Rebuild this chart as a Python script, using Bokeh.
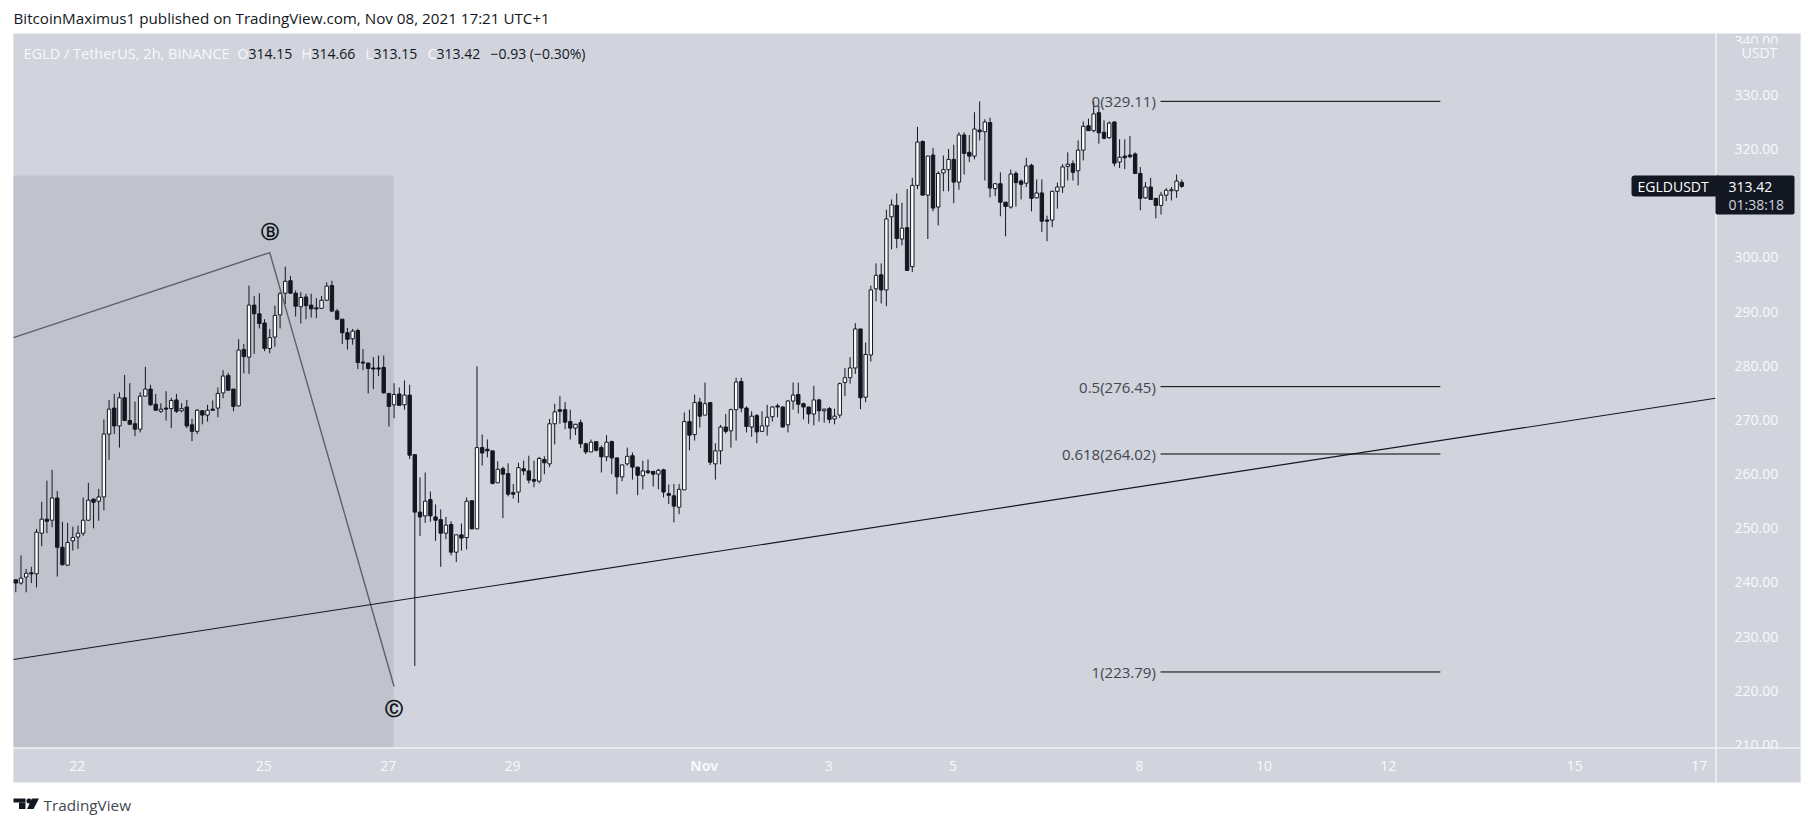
from bokeh.core.properties import value
from bokeh.embed import file_html
from bokeh.resources import INLINE
from bokeh.plotting import figure
from bokeh.models import (BoxAnnotation, ColumnDataSource, FixedTicker, Label,
                          LinearAxis, NumeralTickFormatter, PolyAnnotation, Range1d)

PANEL = "#d1d4dc"
DARK = "#131722"
LIGHT = "#f8f9fc"
FONT = "Open Sans"

high_prices = [
 240.8,245.3,242.8,243.2,250.2,255.2,259.1,261.1,257.2,251.5,
 251.3,250.6,250.8,256.0,258.7,255.8,257.6,270.4,274.0,275.1,
 275.4,278.6,277.1,273.7,275.4,280.1,276.8,275.1,273.4,275.6,
 274.4,275.1,273.4,274.0,270.5,272.3,272.1,273.1,273.9,276.3,
 279.5,279.0,276.0,285.2,284.3,295.1,293.2,293.7,288.9,287.1,
 291.4,294.0,298.6,296.9,294.2,293.9,293.6,293.6,292.8,293.2,
 295.7,296.0,290.8,288.9,287.3,287.1,287.1,283.4,280.9,281.9,
 282.2,282.2,275.2,277.1,276.3,277.6,276.8,263.9,
 259.7,260.6,257.1,254.7,253.8,252.4,251.6,249.1,251.2,256.0,
 255.4,280.2,267.6,266.7,264.6,262.7,261.7,262.3,258.5,262.4,
 262.8,263.7,262.8,263.5,263.6,270.5,273.3,274.7,273.6,272.2,
 269.6,270.4,266.1,266.7,266.3,265.6,267.5,266.5,263.3,262.1,
 265.2,264.3,261.6,262.8,263.0,260.9,261.3,261.3,258.4,258.5,
 258.5,271.7,272.2,275.0,274.4,277.2,273.6,266.0,269.4,271.4,
 272.4,278.1,278.1,272.8,271.9,271.4,271.9,273.1,272.8,273.3,
 272.8,274.0,277.2,277.2,273.5,272.7,276.6,274.2,272.4,272.7,
 272.4,277.2,279.9,
 281.9,288.2,287.1,284.6,295.1,299.2,299.2,309.1,311.0,312.1,
 310.4,312.9,315.0,324.4,321.9,319.1,320.5,316.2,319.1,320.3,
 321.1,323.4,323.4,322.9,327.1,329.1,325.8,326.1,314.0,316.0,
 310.5,316.5,316.2,314.7,318.7,317.6,314.7,314.7,308.0,312.6,
 314.1,317.5,319.7,318.2,321.9,325.4,325.9,329.1,328.3,325.6,
 325.4,325.4,322.1,322.1,322.7,319.7,317.0,314.2,315.0,311.2,
 312.4,313.1,313.3,315.6,314.66]

open_prices = [
 240.8,240.2,241.3,242.1,241.9,249.4,252.0,251.8,255.9,246.8,
 243.5,248.0,248.7,249.4,251.8,255.7,255.3,256.1,267.7,272.5,
 269.2,274.4,270.2,269.6,268.6,274.7,276.0,273.2,271.9,272.5,
 272.4,274.0,272.0,272.7,269.4,268.2,272.0,271.2,272.3,272.5,
 275.3,278.5,276.0,272.9,283.3,281.9,291.5,289.9,288.2,283.5,
 285.6,289.7,293.7,296.0,293.7,291.2,293.0,291.5,291.0,290.9,
 292.4,295.1,290.4,288.9,286.4,285.3,286.8,281.0,280.8,279.9,
 279.9,280.0,275.2,273.1,275.1,273.1,274.9,263.9,
 253.3,252.6,255.6,252.4,251.9,249.4,251.0,245.9,249.1,248.6,
 255.4,250.2,265.2,264.9,264.6,258.7,261.3,260.4,256.9,257.0,
 261.3,260.9,259.3,259.0,263.0,262.2,269.6,272.2,272.2,270.0,
 268.8,269.8,265.9,264.4,266.3,265.2,263.5,266.3,263.3,259.8,
 262.2,263.7,261.6,260.0,260.9,260.8,260.3,261.1,256.7,256.3,
 254.2,257.4,270.0,267.6,273.6,271.2,273.5,262.2,264.6,269.0,
 268.3,272.2,277.4,272.5,269.0,271.1,268.2,269.2,270.9,272.9,
 272.7,269.4,273.8,275.0,273.3,272.7,271.4,274.0,272.0,272.4,
 270.5,271.2,277.2,
 278.1,279.9,287.1,274.5,282.3,294.5,297.1,294.3,307.8,309.9,
 303.7,305.8,298.6,313.6,321.7,311.8,319.2,309.6,315.9,316.5,
 318.4,314.2,322.9,319.7,319.0,323.8,323.5,325.2,313.0,313.9,
 310.5,309.6,315.8,314.4,314.0,317.3,311.3,312.2,307.2,307.2,
 312.5,313.3,317.1,317.6,316.3,320.1,324.6,323.7,327.0,323.4,
 322.4,325.3,317.9,319.0,319.2,319.4,315.8,311.3,313.3,311.2,
 309.9,311.8,312.6,312.6,314.15]

close_prices = [
 240.2,241.1,242.0,241.9,249.6,252.0,251.6,255.9,246.8,243.6,
 247.7,248.6,249.4,251.8,255.5,255.1,256.1,267.7,272.3,269.2,
 274.4,270.2,269.5,268.6,274.7,276.0,273.1,272.1,272.3,272.3,
 273.9,271.9,272.4,269.2,268.2,272.1,271.2,272.1,272.1,275.2,
 278.4,275.8,272.8,283.2,282.0,291.5,289.9,288.1,283.5,285.5,
 289.6,293.6,295.9,293.7,291.3,292.9,291.4,290.8,290.8,292.4,
 295.0,290.4,288.9,286.4,285.2,286.7,280.9,280.8,279.8,279.7,
 279.7,275.3,272.8,275.0,273.0,274.9,263.8,253.3,
 252.4,255.3,252.6,251.8,249.4,250.9,245.9,249.1,248.5,255.3,
 250.2,265.2,264.2,264.6,258.6,261.2,260.3,256.6,256.6,261.5,
 260.9,259.2,259.0,263.2,262.4,269.6,271.8,271.9,269.9,268.8,
 269.5,265.9,264.4,266.2,264.7,263.5,266.2,263.3,259.8,262.0,
 263.6,261.6,260.1,260.9,260.6,260.3,261.0,257.0,256.4,254.4,
 257.5,270.0,267.5,273.5,271.0,273.3,262.5,264.6,269.0,268.2,
 272.2,277.3,272.5,269.1,271.0,268.1,269.2,270.8,272.7,272.7,
 269.0,273.8,274.9,273.2,272.7,271.4,274.0,272.0,272.3,270.4,
 271.0,277.0,278.1,
 279.9,287.1,274.4,282.4,294.3,297.0,294.3,307.4,310.0,303.8,
 305.7,297.9,313.6,321.6,311.8,319.0,309.4,315.8,316.5,318.4,
 314.2,322.9,319.5,319.0,324.0,323.5,325.3,313.1,313.9,310.5,
 309.7,315.7,314.1,313.8,317.2,311.2,312.2,307.0,307.0,312.5,
 313.3,317.0,317.5,316.0,320.1,324.5,323.7,326.8,323.3,322.3,
 325.1,317.7,318.8,318.7,318.9,315.8,311.2,313.3,311.0,309.9,
 311.8,312.7,312.8,314.4,313.42]

low_prices = [
 238.5,239.9,238.5,240.2,239.4,247.0,249.4,250.5,241.4,243.4,
 243.4,246.2,246.5,248.9,251.7,250.3,251.7,253.6,262.9,267.7,
 265.2,270.2,269.5,267.3,268.0,274.7,272.9,272.0,271.6,270.2,
 268.8,271.6,271.7,268.8,266.4,267.7,269.5,270.0,272.0,270.8,
 274.3,275.7,271.9,272.8,278.9,278.8,282.5,287.2,283.0,282.6,
 283.8,287.2,291.7,293.6,289.4,288.1,288.9,289.2,289.1,290.8,
 292.3,290.2,288.8,284.3,283.3,284.2,279.7,279.5,275.2,276.0,
 278.4,275.2,269.1,270.6,273.0,272.2,263.1,224.9,
 248.9,251.3,251.5,248.0,243.2,248.3,245.3,244.1,246.2,246.4,
 250.2,250.2,261.9,263.4,258.4,258.7,252.2,256.2,255.8,255.0,
 260.1,258.6,257.9,258.6,260.3,261.6,265.8,269.6,268.6,266.7,
 267.5,265.1,264.0,264.4,264.5,260.6,262.7,260.3,256.6,259.0,
 261.9,259.3,256.4,257.5,260.3,258.0,257.5,256.0,254.8,251.4,
 252.9,257.4,264.7,266.5,268.9,271.2,262.0,259.3,262.1,267.8,
 265.2,266.5,271.7,268.0,267.2,266.0,268.1,267.4,270.0,270.8,
 268.9,268.0,272.2,271.5,270.4,269.6,269.3,270.0,269.8,269.7,
 269.5,270.7,274.7,
 277.0,278.8,272.3,273.6,281.1,292.2,291.8,291.3,301.8,302.0,
 302.5,297.9,297.6,312.9,311.7,303.7,308.8,306.2,312.5,312.5,
 310.3,312.8,315.6,317.9,318.4,321.9,314.5,311.4,311.6,307.9,
 304.2,309.3,309.7,311.0,313.3,308.8,311.2,305.0,303.3,305.9,
 309.3,312.2,314.5,314.5,313.6,318.2,323.7,323.4,321.3,322.1,
 322.2,317.1,316.8,316.6,318.6,315.7,309.0,311.1,311.0,307.5,
 308.2,310.7,310.8,311.3,313.15]

assert len(high_prices) == len(open_prices) == len(close_prices) == len(low_prices) == 226

price_ticks = [210, 220, 230, 240, 250, 260, 270, 280, 290, 300, 320, 330, 340]
date_tick_bars = [12, 48, 72, 96, 133, 157, 181, 217, 241, 265, 301, 325]
date_tick_labels = ["22", "25", "27", "29", "", "3", "5", "8", "10", "12", "15", "17"]
month_tick_bar = 132.86
month_tick_label = "Nov"

fib_levels = ["0", "0.5", "0.618", "1"]
fib_prices = [329.11, 276.45, 264.02, 223.79]
fib_start_bar = 220.9
fib_end_bar = 274.9
fib_text_bar = 220.0

trend_bars = [-0.44, 328.0]
trend_prices = [226.1, 274.3]
wave_bars = [-0.44, 49.0, 73.0]
wave_prices = [285.5, 301.2, 221.1]
wave_label_text = ["Ⓑ", "Ⓒ"]
wave_label_bars = [49.1, 72.9]
wave_label_prices = [305.0, 217.0]
shade_bars = [-0.444, 72.9]
shade_prices = [209.85, 315.4]

# the frame fills the canvas so that the page furniture around the chart is not clipped
W, H = 1813, 826
p = figure(width=W, height=H, output_backend="svg", toolbar_location=None,
           x_range=Range1d(-2.9527, 346.91), y_range=Range1d(195.27, 347.72),
           x_axis_location=None, y_axis_location=None,
           min_border_left=0, min_border_right=0, min_border_top=0, min_border_bottom=0)
p.background_fill_color = "white"
p.border_fill_color = "white"
p.outline_line_color = None
p.grid.visible = False
# the axes read small pixel nudges from these so that their labels sit where the reference's do
p.extra_y_ranges = {"price_labels": Range1d(195.27 - 0.31, 347.72 - 0.31)}
p.extra_x_ranges = {"date_labels": Range1d(-2.9527 + 0.14, 346.91 + 0.14)}

def box(l, t, r, b, level="annotation", **kw):
    a = BoxAnnotation(left=l, right=r, top=t, bottom=b,
                      left_units="canvas", right_units="canvas", top_units="canvas", bottom_units="canvas",
                      level=level, editable=False, **kw)
    p.add_layout(a)
    return a

box(13, 33, 1800, 782, level="underlay", fill_color=PANEL, fill_alpha=1, line_color="#e0e3eb", line_width=1)

p.quad(left=[shade_bars[0]], right=[shade_bars[1]], bottom=[shade_prices[0]], top=[shade_prices[1]],
       fill_color="#c0c3cc", line_color=None)

idx = list(range(len(open_prices)))
src = ColumnDataSource(dict(
    x=idx, o=open_prices, h=high_prices, l=low_prices, c=close_prices,
    top=[max(a, b) for a, b in zip(open_prices, close_prices)],
    bot=[min(a, b) for a, b in zip(open_prices, close_prices)],
    col=["white" if c >= o else DARK for o, c in zip(open_prices, close_prices)]))
p.segment(x0="x", x1="x", y0="l", y1="h", source=src, color=DARK, line_width=1)
p.vbar(x="x", width=0.66, top="top", bottom="bot", fill_color="col", line_color=DARK, line_width=1, source=src)

p.line(wave_bars, wave_prices, line_color="#5d606b", line_width=1.4)
p.line(trend_bars, trend_prices, line_color=DARK, line_width=1.1)

for price in fib_prices:
    p.line([fib_start_bar, fib_end_bar], [price, price], line_color="black", line_width=1)
p.text(x=[fib_text_bar] * 4, y=fib_prices,
       text=[f"{l}({v:.2f})" for l, v in zip(fib_levels, fib_prices)],
       text_font=value(FONT), text_font_size="15px", text_color="#434651", text_align="right", text_baseline="middle")
p.text(x=wave_label_bars, y=wave_label_prices, text=wave_label_text, text_font_style="bold",
       text_font=value("DejaVu Sans"), text_font_size="18px", text_color=DARK, text_align="center", text_baseline="middle")

yax = LinearAxis(ticker=FixedTicker(ticks=price_ticks), formatter=NumeralTickFormatter(format="0.00"),
                 fixed_location=328.0, y_range_name="price_labels",
                 major_tick_line_color=None, minor_tick_line_color=None, axis_line_color=None,
                 major_label_standoff=13, major_label_text_color=LIGHT,
                 major_label_text_font=FONT, major_label_text_font_size="14px")
p.add_layout(yax, "right")
xax = LinearAxis(ticker=FixedTicker(ticks=date_tick_bars),
                 major_label_overrides={b: t for b, t in zip(date_tick_bars, date_tick_labels)},
                 fixed_location=209.85, x_range_name="date_labels",
                 major_tick_line_color=None, minor_tick_line_color=None, axis_line_color=None,
                 major_label_standoff=7, major_label_text_color=LIGHT,
                 major_label_text_font=FONT, major_label_text_font_size="14px")
p.add_layout(xax, "below")

# covers that crop the half-hidden 340 and 210 labels
box(1716, 43, 1799, 60, fill_color=PANEL, fill_alpha=1, line_color=None)
box(1716, 748, 1799, 781, fill_color=PANEL, fill_alpha=1, line_color=None)
box(1715, 33, 1716, 782, fill_color="white", fill_alpha=1, line_color=None)
box(13, 747, 1800, 748, fill_color="white", fill_alpha=1, line_color=None)

# last price tag
box(1631, 175, 1720, 196, fill_color=DARK, fill_alpha=1, line_color=None, border_radius=3)
box(1715, 175, 1794, 214, fill_color=DARK, fill_alpha=1, line_color=None, border_radius=2)

def label(text, x, y, color, size=14, font=FONT, align="left", style="normal", x_units="canvas"):
    p.add_layout(Label(x=x, y=y, x_units=x_units, y_units="canvas", text=text, text_color=color,
                       text_font=font, text_font_size=f"{size}px", text_align=align, text_baseline="middle",
                       text_font_style=style, level="annotation"))

label(month_tick_label, month_tick_bar, 765, LIGHT, align="center", style="bold", x_units="data")
label("BitcoinMaximus1 published on TradingView.com, Nov 08, 2021 17:21 UTC+1", 13, 17, "#131722", size=15.2)
label("EGLD / TetherUS, 2h, BINANCE", 23, 53, LIGHT, size=14.5)
for txt, x, col in [("O", 237, LIGHT), ("314.15", 248, "#131722"), ("H", 301, LIGHT), ("314.66", 311, "#131722"),
                    ("L", 365, LIGHT), ("313.15", 373, "#131722"), ("C", 427, LIGHT), ("313.42", 436, "#131722"),
                    ("−0.93 (−0.30%)", 490, "#131722")]:
    label(txt, x, 53, col)
label("USDT", 1741, 52, LIGHT)
label("EGLDUSDT", 1637, 186, "white")
label("313.42", 1728, 186, "white")
label("01:38:18", 1728, 204, "#d1d4dc")
label("TradingView", 43, 804, "#434651", size=15.3)

# TradingView logo
box(13, 798, 25, 802, fill_color=DARK, fill_alpha=1, line_color=None)
box(18.5, 802, 25, 808.5, fill_color=DARK, fill_alpha=1, line_color=None)
box(26, 798, 31, 803, fill_color=DARK, fill_alpha=1, line_color=None, border_radius=2)
p.add_layout(PolyAnnotation(xs=[31.5, 38.5, 33, 26.5], ys=[798, 798, 808.5, 808.5], xs_units="canvas", ys_units="canvas",
                            fill_color=DARK, fill_alpha=1, line_color=None, level="annotation", editable=False))

open("out.html", "w").write(file_html(p, INLINE))
